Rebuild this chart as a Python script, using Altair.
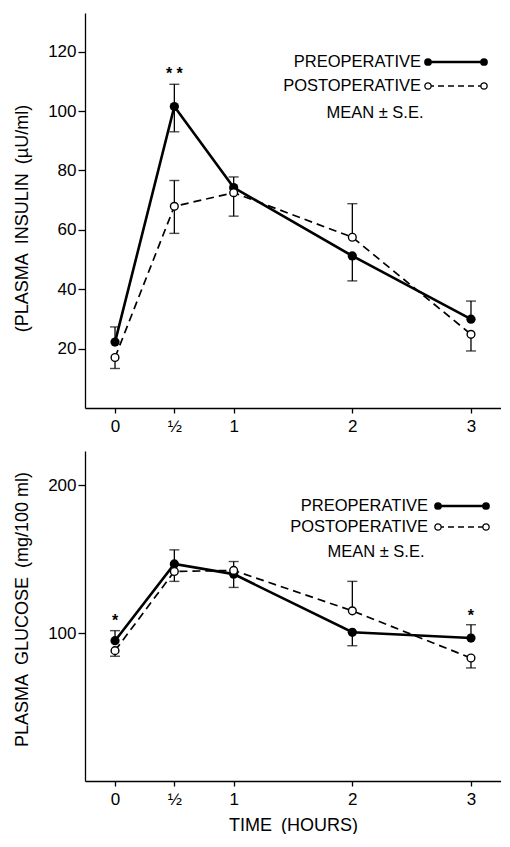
import altair as alt
import pandas as pd

# ---------------- data ----------------
times = [0, 0.5, 1, 2, 3]
tick_values = [0, 0.5, 1, 2, 3]

insulin_pre = [22.2, 101.5, 74.2, 51.2, 29.9]
insulin_pre_hi = [27.3, 109.0, 77.8, None, 36.0]
insulin_pre_lo = [None, 93.0, None, 42.8, None]
insulin_post = [17.0, 67.9, 72.5, 57.5, 24.8]
insulin_post_hi = [None, 76.6, None, 68.8, None]
insulin_post_lo = [13.3, 58.8, 64.6, None, 19.2]
insulin_sig_t = [0.5]
insulin_sig_y = [112.5]
insulin_sig_text = ["* *"]
insulin_yticks = [20, 40, 60, 80, 100, 120]

glucose_pre = [94.8, 146.7, 139.8, 100.5, 96.6]
glucose_pre_hi = [101.6, 156.2, None, None, 105.6]
glucose_pre_lo = [None, None, 130.8, 91.4, None]
glucose_post = [88.1, 141.6, 142.3, 115.0, 83.1]
glucose_post_hi = [None, None, 148.3, 134.9, None]
glucose_post_lo = [84.3, 134.9, None, None, 76.4]
glucose_sig_t = [0, 3]
glucose_sig_y = [108.0, 111.7]
glucose_sig_text = ["*", "*"]
glucose_yticks = [100, 200]

legend_labels = ["PREOPERATIVE", "POSTOPERATIVE", "MEAN \u00b1 S.E."]

FONT = "Liberation Sans"
LEG_FS = 16.5
PLOT_W = 416


def err_frame(vals, his, los):
    rows = []
    for t, v, h, l in zip(times, vals, his, los):
        if h is not None:
            rows.append({"t": t, "v": v, "e": h})
        if l is not None:
            rows.append({"t": t, "v": v, "e": l})
    return pd.DataFrame(rows)


def one(label):
    return pd.DataFrame({"label": [label]})


def legend_layers(tx, x1, x2, y1, y2, y3, mx):
    layers = []
    layers.append(alt.Chart(one(legend_labels[0])).mark_text(
        align="right", baseline="middle", fontSize=LEG_FS, font=FONT, color="black"
    ).encode(text="label:N", x=alt.value(tx), y=alt.value(y1)))
    layers.append(alt.Chart(one(legend_labels[1])).mark_text(
        align="right", baseline="middle", fontSize=LEG_FS, font=FONT, color="black"
    ).encode(text="label:N", x=alt.value(tx), y=alt.value(y2)))
    layers.append(alt.Chart(one(legend_labels[2])).mark_text(
        align="center", baseline="middle", fontSize=LEG_FS, font=FONT, color="black"
    ).encode(text="label:N", x=alt.value(mx), y=alt.value(y3)))
    layers.append(alt.Chart(one("a")).mark_rule(color="black", strokeWidth=2.4).encode(
        x=alt.value(x1), x2=alt.value(x2), y=alt.value(y1)))
    layers.append(alt.Chart(one("b")).mark_rule(color="black", strokeWidth=1.6, strokeDash=[6, 4]).encode(
        x=alt.value(x1), x2=alt.value(x2), y=alt.value(y2)))
    for xx in (x1, x2):
        layers.append(alt.Chart(one("c")).mark_point(
            shape="circle", filled=True, color="black", size=60, opacity=1
        ).encode(x=alt.value(xx), y=alt.value(y1)))
        layers.append(alt.Chart(one("d")).mark_point(
            shape="circle", filled=True, fill="white", stroke="black", strokeWidth=1.3, size=40, opacity=1
        ).encode(x=alt.value(xx), y=alt.value(y2)))
    return layers


def panel(pre, pre_hi, pre_lo, post, post_hi, post_lo, sig_t, sig_y, sig_txt,
          ydomain, yticks, ytitle, title_y, height, xtitle, leg):
    xenc = alt.X("t:Q",
                 scale=alt.Scale(domain=[-0.253, 3.253], nice=False, zero=False),
                 axis=alt.Axis(values=tick_values,
                               labelExpr="datum.value == 0.5 ? '\u00bd' : format(datum.value, 'd')"),
                 title=xtitle)
    yenc = alt.Y("v:Q", scale=alt.Scale(domain=ydomain, nice=False, zero=False),
                 axis=alt.Axis(values=yticks, titleY=title_y), title=ytitle)

    df_pre = pd.DataFrame({"t": times, "v": pre})
    df_post = pd.DataFrame({"t": times, "v": post})
    e_pre = err_frame(pre, pre_hi, pre_lo)
    e_post = err_frame(post, post_hi, post_lo)
    df_sig = pd.DataFrame({"t": sig_t, "v": sig_y, "s": sig_txt})

    line_pre = alt.Chart(df_pre).mark_line(color="black", strokeWidth=2.6).encode(x=xenc, y=yenc)
    line_post = alt.Chart(df_post).mark_line(color="black", strokeWidth=1.7, strokeDash=[8, 5]).encode(x=xenc, y=yenc)

    layers = [line_pre, line_post]
    for e in (e_pre, e_post):
        layers.append(alt.Chart(e).mark_rule(color="black", strokeWidth=1.3).encode(
            x=xenc, y=yenc, y2="e:Q"))
        layers.append(alt.Chart(e).mark_tick(color="black", thickness=1.4, size=10,
                                             orient="horizontal").encode(
            x=xenc, y=alt.Y("e:Q")))
    layers.append(alt.Chart(df_pre).mark_point(shape="circle", filled=True, color="black",
                                               size=85, opacity=1).encode(x=xenc, y=yenc))
    layers.append(alt.Chart(df_post).mark_point(shape="circle", filled=True, fill="white",
                                                stroke="black", strokeWidth=1.4, size=60,
                                                opacity=1).encode(x=xenc, y=yenc))
    layers.append(alt.Chart(df_sig).mark_text(fontSize=16, fontWeight="bold", font=FONT,
                                              color="black").encode(x=xenc, y=yenc, text="s:N"))
    layers += legend_layers(*leg)
    return alt.layer(*layers).properties(width=PLOT_W, height=height)


top = panel(insulin_pre, insulin_pre_hi, insulin_pre_lo,
            insulin_post, insulin_post_hi, insulin_post_lo,
            insulin_sig_t, insulin_sig_y, insulin_sig_text,
            [0, 133], insulin_yticks, "(PLASMA\u2002INSULIN\u2002(\u00b5U/ml)", 205, 395, None,
            (336, 343, 399, 49, 73, 100, 290))

bottom = panel(glucose_pre, glucose_pre_hi, glucose_pre_lo,
               glucose_post, glucose_post_hi, glucose_post_lo,
               glucose_sig_t, glucose_sig_y, glucose_sig_text,
               [0, 223], glucose_yticks, "PLASMA\u2002GLUCOSE\u2002(mg/100 ml)", 158, 330,
               "TIME\u2002(HOURS)",
               (343, 353, 401, 55, 76, 101, 291))

chart = alt.vconcat(top, bottom, spacing=17).properties(
    padding={"left": 5, "top": 5, "right": 0, "bottom": 0}
).configure_view(stroke=None).configure_axis(
    grid=False, domainColor="black", tickColor="black", labelColor="black",
    titleColor="black", labelFont=FONT, titleFont=FONT, labelFontSize=17,
    titleFontSize=18, titleFontWeight="normal", domainWidth=1.3, tickWidth=1.3
).configure_axisY(
    titlePadding=16, tickSize=7, labelPadding=2
).configure_axisX(
    tickSize=5, labelPadding=5, titlePadding=9
)

chart.save("out.html", embed_options={"renderer": "svg", "actions": False})
